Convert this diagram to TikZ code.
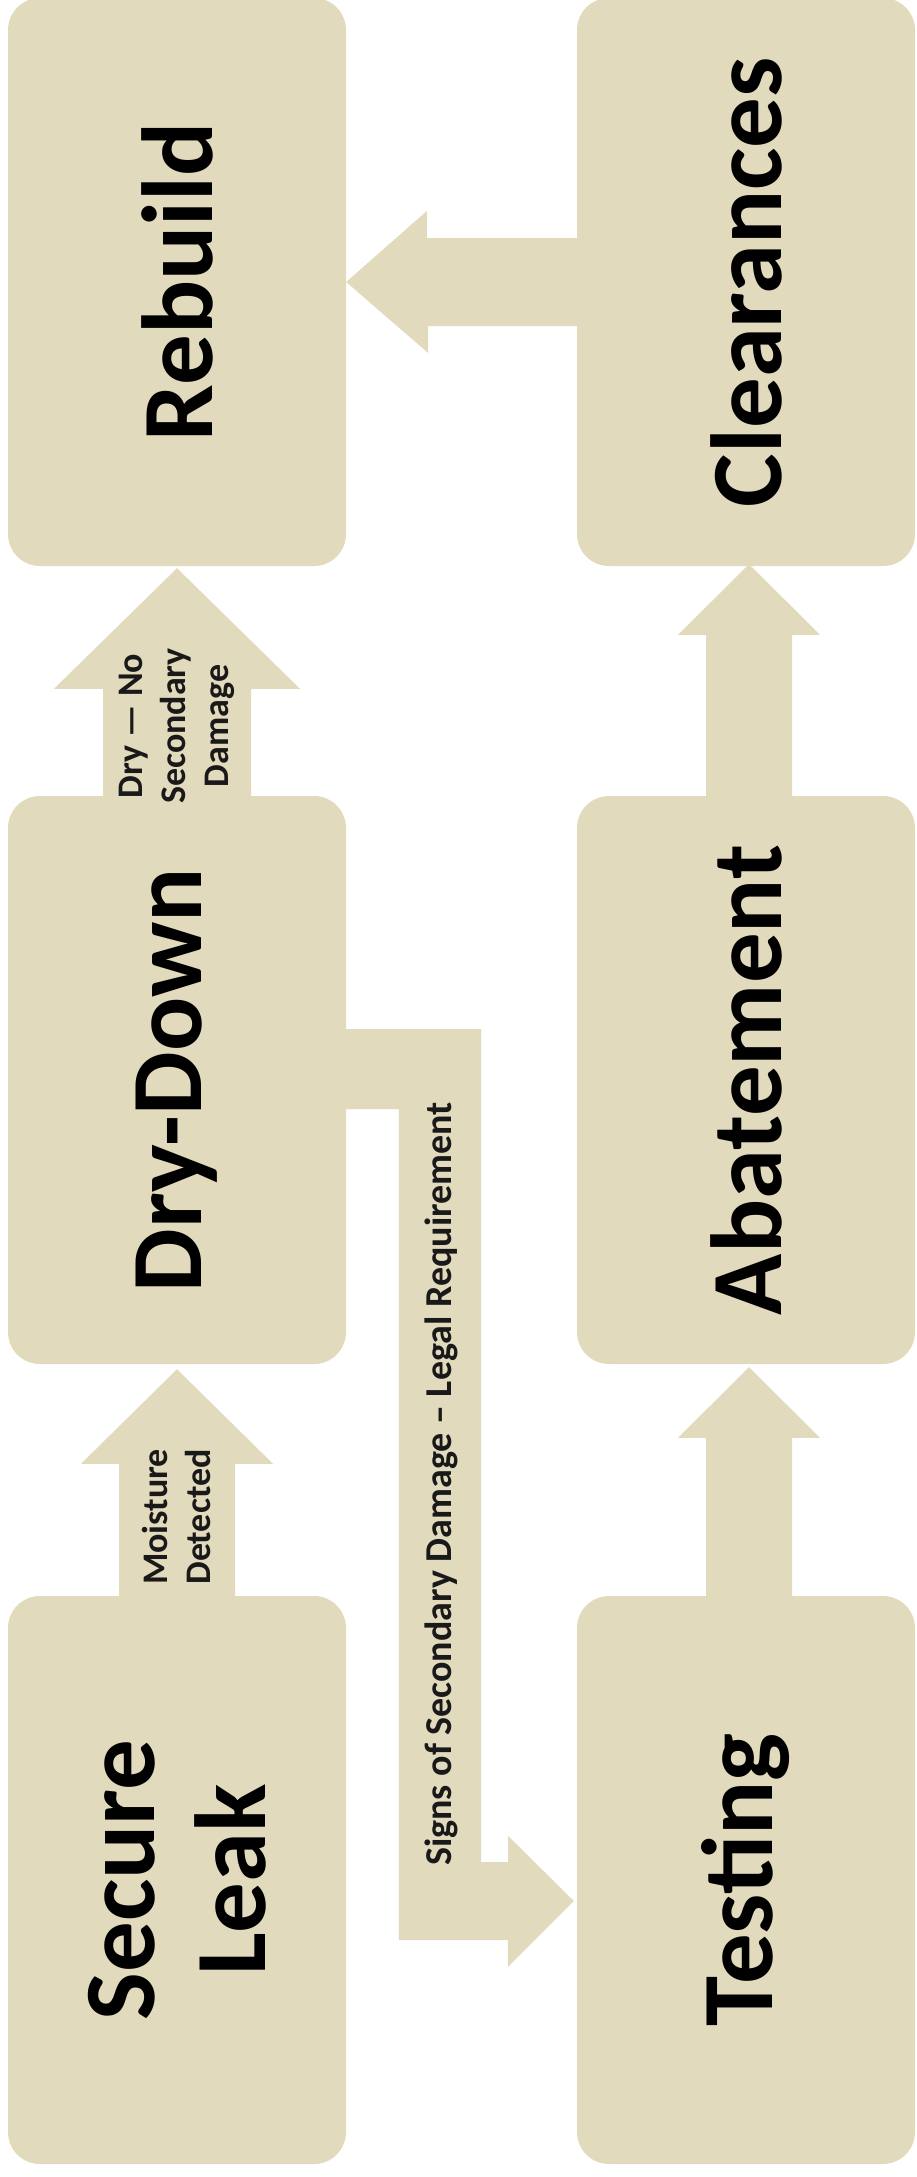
\documentclass[tikz,border=0pt]{standalone}
\usepackage{fontspec}
\setmainfont{Carlito}
\usepackage{xcolor}
\usetikzlibrary{calc}

\definecolor{stagetan}{HTML}{E2DABD}

\begin{document}
\begin{tikzpicture}[
    x=1pt, y=-1pt,
    stage/.style={rectangle, rounded corners=32pt, fill=stagetan, minimum width=338pt, minimum height=568pt, inner sep=0pt},
    biglbl/.style={rotate=90, align=center, font=\fontsize{101}{111}\selectfont\bfseries},
    flowlbl/.style={rotate=90, align=center, text=black!90, font=\fontsize{36}{43}\selectfont\bfseries},
    flow/.style={fill=stagetan}
]
    \useasboundingbox (0,0) rectangle (916,2177);

    % stages
    \node[stage] (rebuild) at (177,282) {};
    \node[stage] (clear) at (746,282) {};
    \node[stage] (dry) at (177,1080) {};
    \node[stage] (abate) at (746,1080) {};
    \node[stage] (leak) at (177,1880) {};
    \node[stage] (test) at (746,1880) {};

    % block arrows
    \fill[flow] ($(leak.north)+(-58,0)$) -- ++(0,-132) -- ++(-38,0) -- ($(dry.south)+(0,5)$) -- ($(leak.north)+(96,-132)$) -- ++(-38,0) -- ($(leak.north)+(58,0)$) -- cycle;
    \fill[flow] ($(dry.north)+(-74,0)$) -- ++(0,-107) -- ++(-49,0) -- ($(rebuild.south)+(0,2)$) -- ($(dry.north)+(123,-107)$) -- ++(-49,0) -- ($(dry.north)+(74,0)$) -- cycle;
    \fill[flow] ($(test.north)+(-40,0)$) -- ++(0,-158) -- ++(-28,0) -- ($(abate.south)+(3,3)$) -- ($(test.north)+(74,-158)$) -- ++(-28,0) -- ($(test.north)+(46,0)$) -- cycle;
    \fill[flow] ($(abate.north)+(-40,0)$) -- ++(0,-161) -- ++(-28,0) -- ($(clear.south)+(3,-2)$) -- ($(abate.north)+(74,-161)$) -- ++(-28,0) -- ($(abate.north)+(46,0)$) -- cycle;
    \fill[flow] ($(clear.west)+(12,-44)$) -- ++(-162,0) -- ++(0,-27) -- (rebuild.east) -- ++(82,71) -- ++(0,-27) -- ($(clear.west)+(12,44)$) -- cycle;
    \fill[flow] ($(dry.east)+(0,-51)$) -- ++(135,0) -- ++(0,833) -- ++(27,0) -- ++(0,-26) -- ($(test.west)+(-3,21)$) -- ++(-66,66) -- ++(0,-27) -- ++(-109,0) -- ++(0,-831) -- ($(dry.east)+(0,29)$) -- cycle;

    % stage names
    \node[biglbl] (rebuild-t) at (rebuild) {Rebuild};
    \node[biglbl] (clear-t) at (clear) {Clearances};
    \node[biglbl] (dry-t) at (dry) {Dry-Down};
    \node[biglbl] (abate-t) at (abate) {Abatement};
    \node[biglbl] (leak-t) at (leak) {Secure\\Leak};
    \node[biglbl] (test-t) at (test) {Testing};

    % arrow texts
    \node[flowlbl] (moist-t) at (176,1517) {Moisture\\Detected};
    \node[flowlbl] (nodmg-t) at (177,726) {Dry — No\\Secondary\\Damage};
    \node[flowlbl, font=\fontsize{38}{44}\selectfont\bfseries] (legal-t) at (441,1484) {Signs of Secondary Damage – Legal Requirement};
\end{tikzpicture}
\end{document}
